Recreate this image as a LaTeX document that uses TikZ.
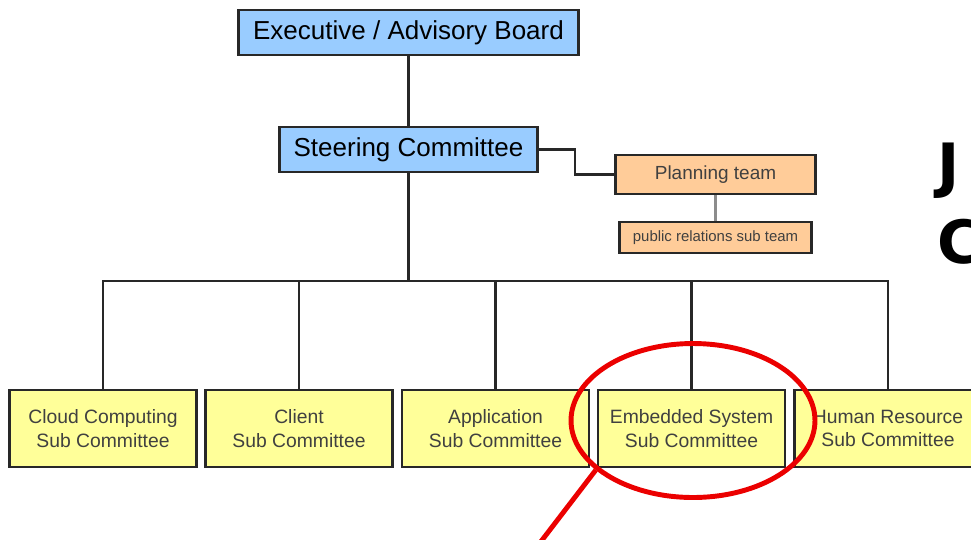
\documentclass[tikz,border=0pt]{standalone}
\usepackage{fontspec}
\setmainfont{Liberation Sans}
\newfontfamily\titlefont{DejaVu Sans}
\usetikzlibrary{shapes.geometric,shadows}
\definecolor{boardblue}{RGB}{153,204,255}
\definecolor{teamorange}{RGB}{255,204,153}
\definecolor{subyellow}{RGB}{255,255,153}
\definecolor{boxline}{RGB}{40,40,40}
\definecolor{ringred}{RGB}{235,0,0}

\tikzset{
  orgbox/.style={draw=boxline,line width=1.3pt,inner sep=0pt,align=center,
    drop shadow={shadow xshift=0.6pt,shadow yshift=-0.6pt,fill=black!30}},
  board/.style={orgbox,fill=boardblue,minimum height=0.9cm,font=\fontsize{14.8}{17}\selectfont},
  team/.style={orgbox,fill=teamorange,text=black!75},
  subcom/.style={orgbox,fill=subyellow,text=black!75,minimum width=3.74cm,minimum height=1.54cm,
    font=\fontsize{11}{13.5}\selectfont},
  link/.style={draw=boxline,line width=1.2pt}
}

\begin{document}
\begin{tikzpicture}[x=0.02cm,y=-0.02cm]
  \useasboundingbox (0,0) rectangle (971,539);

  % top of the chart
  \node[board,minimum width=6.8cm] (exec) at (408.5,32.5) {Executive / Advisory Board};
  \node[board,minimum width=5.16cm] (steer) at (408.5,149.5) {Steering Committee};
  \node[team,minimum width=4cm,minimum height=0.78cm,font=\fontsize{10.8}{13}\selectfont]
    (plan) at (715.5,174.5) {Planning team};
  \node[team,minimum width=3.84cm,minimum height=0.62cm,font=\fontsize{8.5}{10}\selectfont]
    (pr) at (715.5,237.5) {public relations sub team};

  % sub committees
  \node[subcom] (cloud) at (103,428.5) {Cloud Computing\\Sub Committee};
  \node[subcom] (client) at (299,428.5) {Client\\Sub Committee};
  \node[subcom] (app) at (495.5,428.5) {Application\\Sub Committee};
  \node[subcom] (embed) at (691.5,428.5) {Embedded System\\Sub Committee};
  \node[subcom] (hr) at (888,428.5) {Human Resource\\Sub Committee};

  \coordinate (bus) at (408.5,281);

  \path[link]
    (exec) -- (steer)
    (steer) -- (bus)
    (steer.east) -- (575,149.5) |- (plan.west);
  \draw[line width=1.2pt,black!45] (plan) -- (pr);
  \foreach \n in {cloud,client,app,embed,hr}
    \draw[link] (\n.north) |- (bus);

  % big title, cut off at the edge
  \node[inner sep=0pt,anchor=north west,font=\titlefont\bfseries\fontsize{34}{40}\selectfont]
    (tj) at (937,143) {J};
  \node[inner sep=0pt,anchor=north west,font=\titlefont\bfseries\fontsize{34}{40}\selectfont]
    (tc) at (937,219) {C};

  % red mark
  \node[ellipse,draw=ringred,line width=2.8pt,minimum width=4.88cm,minimum height=3.08cm,inner sep=0pt]
    (ring) at (693,420.5) {};
  \coordinate (pin) at (536,548);
  \draw[ringred,line width=2.8pt] (ring.207) -- (pin);
\end{tikzpicture}
\end{document}
